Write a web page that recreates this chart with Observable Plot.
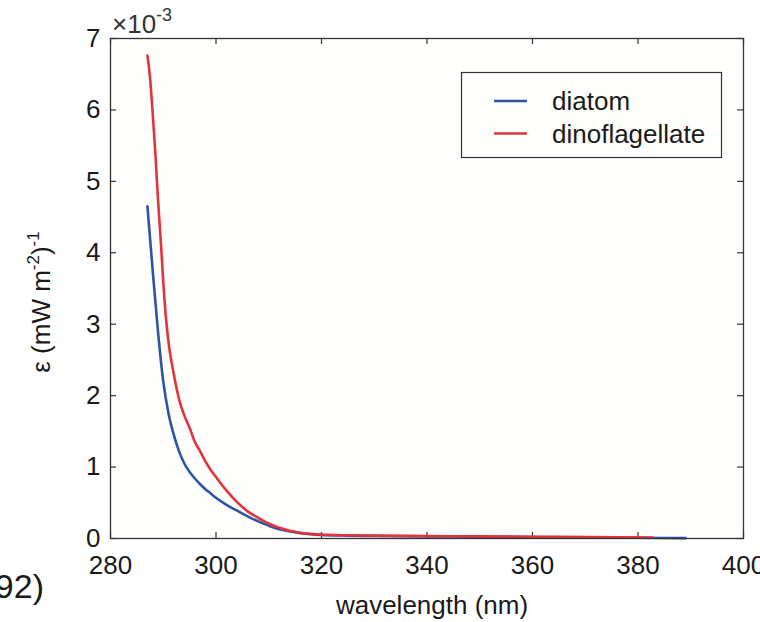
<!DOCTYPE html>
<html>
<head>
<meta charset="utf-8">
<script src="https://cdn.jsdelivr.net/npm/d3@7"></script>
<script src="https://cdn.jsdelivr.net/npm/@observablehq/plot@0.6"></script>
<style>
  body { margin: 0; background: #fff; }
  #wrap { position: relative; width: 760px; height: 622px; overflow: hidden; }
  svg { display: block; }
</style>
</head>
<body>
<div id="wrap"></div>
<script>
// Values of epsilon in units of 1e-3 (mW m^-2)^-1
const diatomWavelength = [287, 288, 289, 290, 291, 292, 293, 294, 295, 296, 297, 298, 299, 300, 302, 304, 306, 308, 310, 312, 314, 316, 318, 320, 325, 330, 340, 350, 360, 370, 380, 389];
const diatomEpsilon    = [4.65, 3.75, 2.9, 2.2, 1.75, 1.45, 1.22, 1.05, 0.93, 0.84, 0.76, 0.69, 0.63, 0.57, 0.47, 0.39, 0.31, 0.24, 0.18, 0.13, 0.10, 0.075, 0.06, 0.05, 0.04, 0.035, 0.03, 0.025, 0.02, 0.015, 0.01, 0.005];

const dinoWavelength = [287, 287.5, 288, 288.5, 289, 289.5, 290, 290.5, 291, 292, 293, 294, 295, 296, 297, 298, 299, 300, 302, 304, 306, 308, 310, 312, 314, 316, 318, 320, 325, 330, 340, 350, 360, 370, 382.7];
const dinoEpsilon    = [6.76, 6.45, 5.95, 5.4, 4.75, 4.2, 3.6, 3.1, 2.75, 2.3, 1.95, 1.72, 1.55, 1.35, 1.22, 1.08, 0.96, 0.86, 0.67, 0.51, 0.38, 0.29, 0.21, 0.15, 0.11, 0.08, 0.065, 0.055, 0.045, 0.04, 0.035, 0.03, 0.025, 0.02, 0.015];

const seriesNames  = ["diatom", "dinoflagellate"];
const seriesColors = ["#2c55a2", "#e3333b"];
const xTicks = [280, 300, 320, 340, 360, 380, 400];
const yTicks = [0, 1, 2, 3, 4, 5, 6, 7];
const xLabel = "wavelength (nm)";

const rows = [
  ...diatomWavelength.map((w, i) => ({w, e: diatomEpsilon[i], s: seriesNames[0]})),
  ...dinoWavelength.map((w, i) => ({w, e: dinoEpsilon[i], s: seriesNames[1]}))
];

const W = 760, H = 622, mL = 110, mR = 17, mT = 38, mB = 84;
const plotW = W - mL - mR, plotH = H - mT - mB;
const tk = 6;
const font = "'Liberation Sans', Arial, Helvetica, sans-serif";
const fmt = d => String(d);

const chart = Plot.plot({
  width: W, height: H,
  marginLeft: mL, marginRight: mR, marginTop: mT, marginBottom: mB,
  style: {fontFamily: font, fontSize: "26px", color: "#1a1a1a", background: "#fff"},
  x: {domain: [280, 400]},
  y: {domain: [0, 7]},
  color: {domain: seriesNames, range: seriesColors},
  marks: [
    Plot.frame({fill: "#fefefc", stroke: null}),
    Plot.tickX(xTicks, {x: d => d, stroke: "#333", strokeWidth: 1.2, insetTop: plotH - tk}),
    Plot.tickX(xTicks, {x: d => d, stroke: "#333", strokeWidth: 1.2, insetBottom: plotH - tk}),
    Plot.tickY(yTicks, {y: d => d, stroke: "#333", strokeWidth: 1.2, insetRight: plotW - tk}),
    Plot.tickY(yTicks, {y: d => d, stroke: "#333", strokeWidth: 1.2, insetLeft: plotW - tk}),
    Plot.line(rows, {x: "w", y: "e", z: "s", stroke: "s", strokeWidth: 2.6, curve: "monotone-x"}),
    Plot.frame({stroke: "#333", strokeWidth: 1.3}),
    Plot.axisX({ticks: xTicks, tickSize: 0, tickPadding: 17, fontSize: 26, tickFormat: fmt, label: null}),
    Plot.axisY({ticks: yTicks, tickSize: 0, tickPadding: 10, fontSize: 26, tickFormat: fmt, label: null}),
    Plot.text([xLabel], {frameAnchor: "bottom", text: d => d, dx: 5, dy: 75, fontSize: 26, fill: "#1a1a1a"})
  ]
});

document.getElementById("wrap").appendChild(chart);

const svg = d3.select(chart);

// Exponent multiplier above y axis
const mult = svg.append("text")
  .attr("x", 112).attr("y", 33).attr("text-anchor", "start")
  .attr("font-family", font).attr("font-size", 26).attr("fill", "#333");
mult.append("tspan").text("×10");
mult.append("tspan").attr("font-size", 18).attr("dy", -12).text("-3");

// Y axis label with superscripts
const yl = svg.append("text")
  .attr("transform", `translate(50, 302) rotate(-90)`)
  .attr("text-anchor", "middle")
  .attr("font-family", font).attr("font-size", 26).attr("fill", "#1a1a1a");
yl.append("tspan").text("ε (mW m");
yl.append("tspan").attr("font-size", 17).attr("dy", -11).text("-2");
yl.append("tspan").attr("dy", 11).text(")");
yl.append("tspan").attr("font-size", 17).attr("dy", -11).text("-1");

// Legend
const lg = svg.append("g");
lg.append("rect").attr("x", 461.5).attr("y", 72.5).attr("width", 260).attr("height", 85)
  .attr("fill", "#fefefc").attr("stroke", "#333").attr("stroke-width", 1.2);
seriesNames.forEach((name, i) => {
  const cy = 101 + i * 32.5;
  lg.append("line").attr("x1", 494).attr("x2", 527).attr("y1", cy).attr("y2", cy)
    .attr("stroke", seriesColors[i]).attr("stroke-width", 2.6);
  lg.append("text").attr("x", 552).attr("y", cy + 9).attr("text-anchor", "start")
    .attr("font-family", font).attr("font-size", 26).attr("fill", "#1a1a1a").text(name);
});

// Cropped remnant text at lower left
svg.append("text").attr("x", 44).attr("y", 598).attr("text-anchor", "end")
  .attr("font-family", font).attr("font-size", 34).attr("fill", "#1a1a1a").text("92)");
</script>
</body>
</html>
